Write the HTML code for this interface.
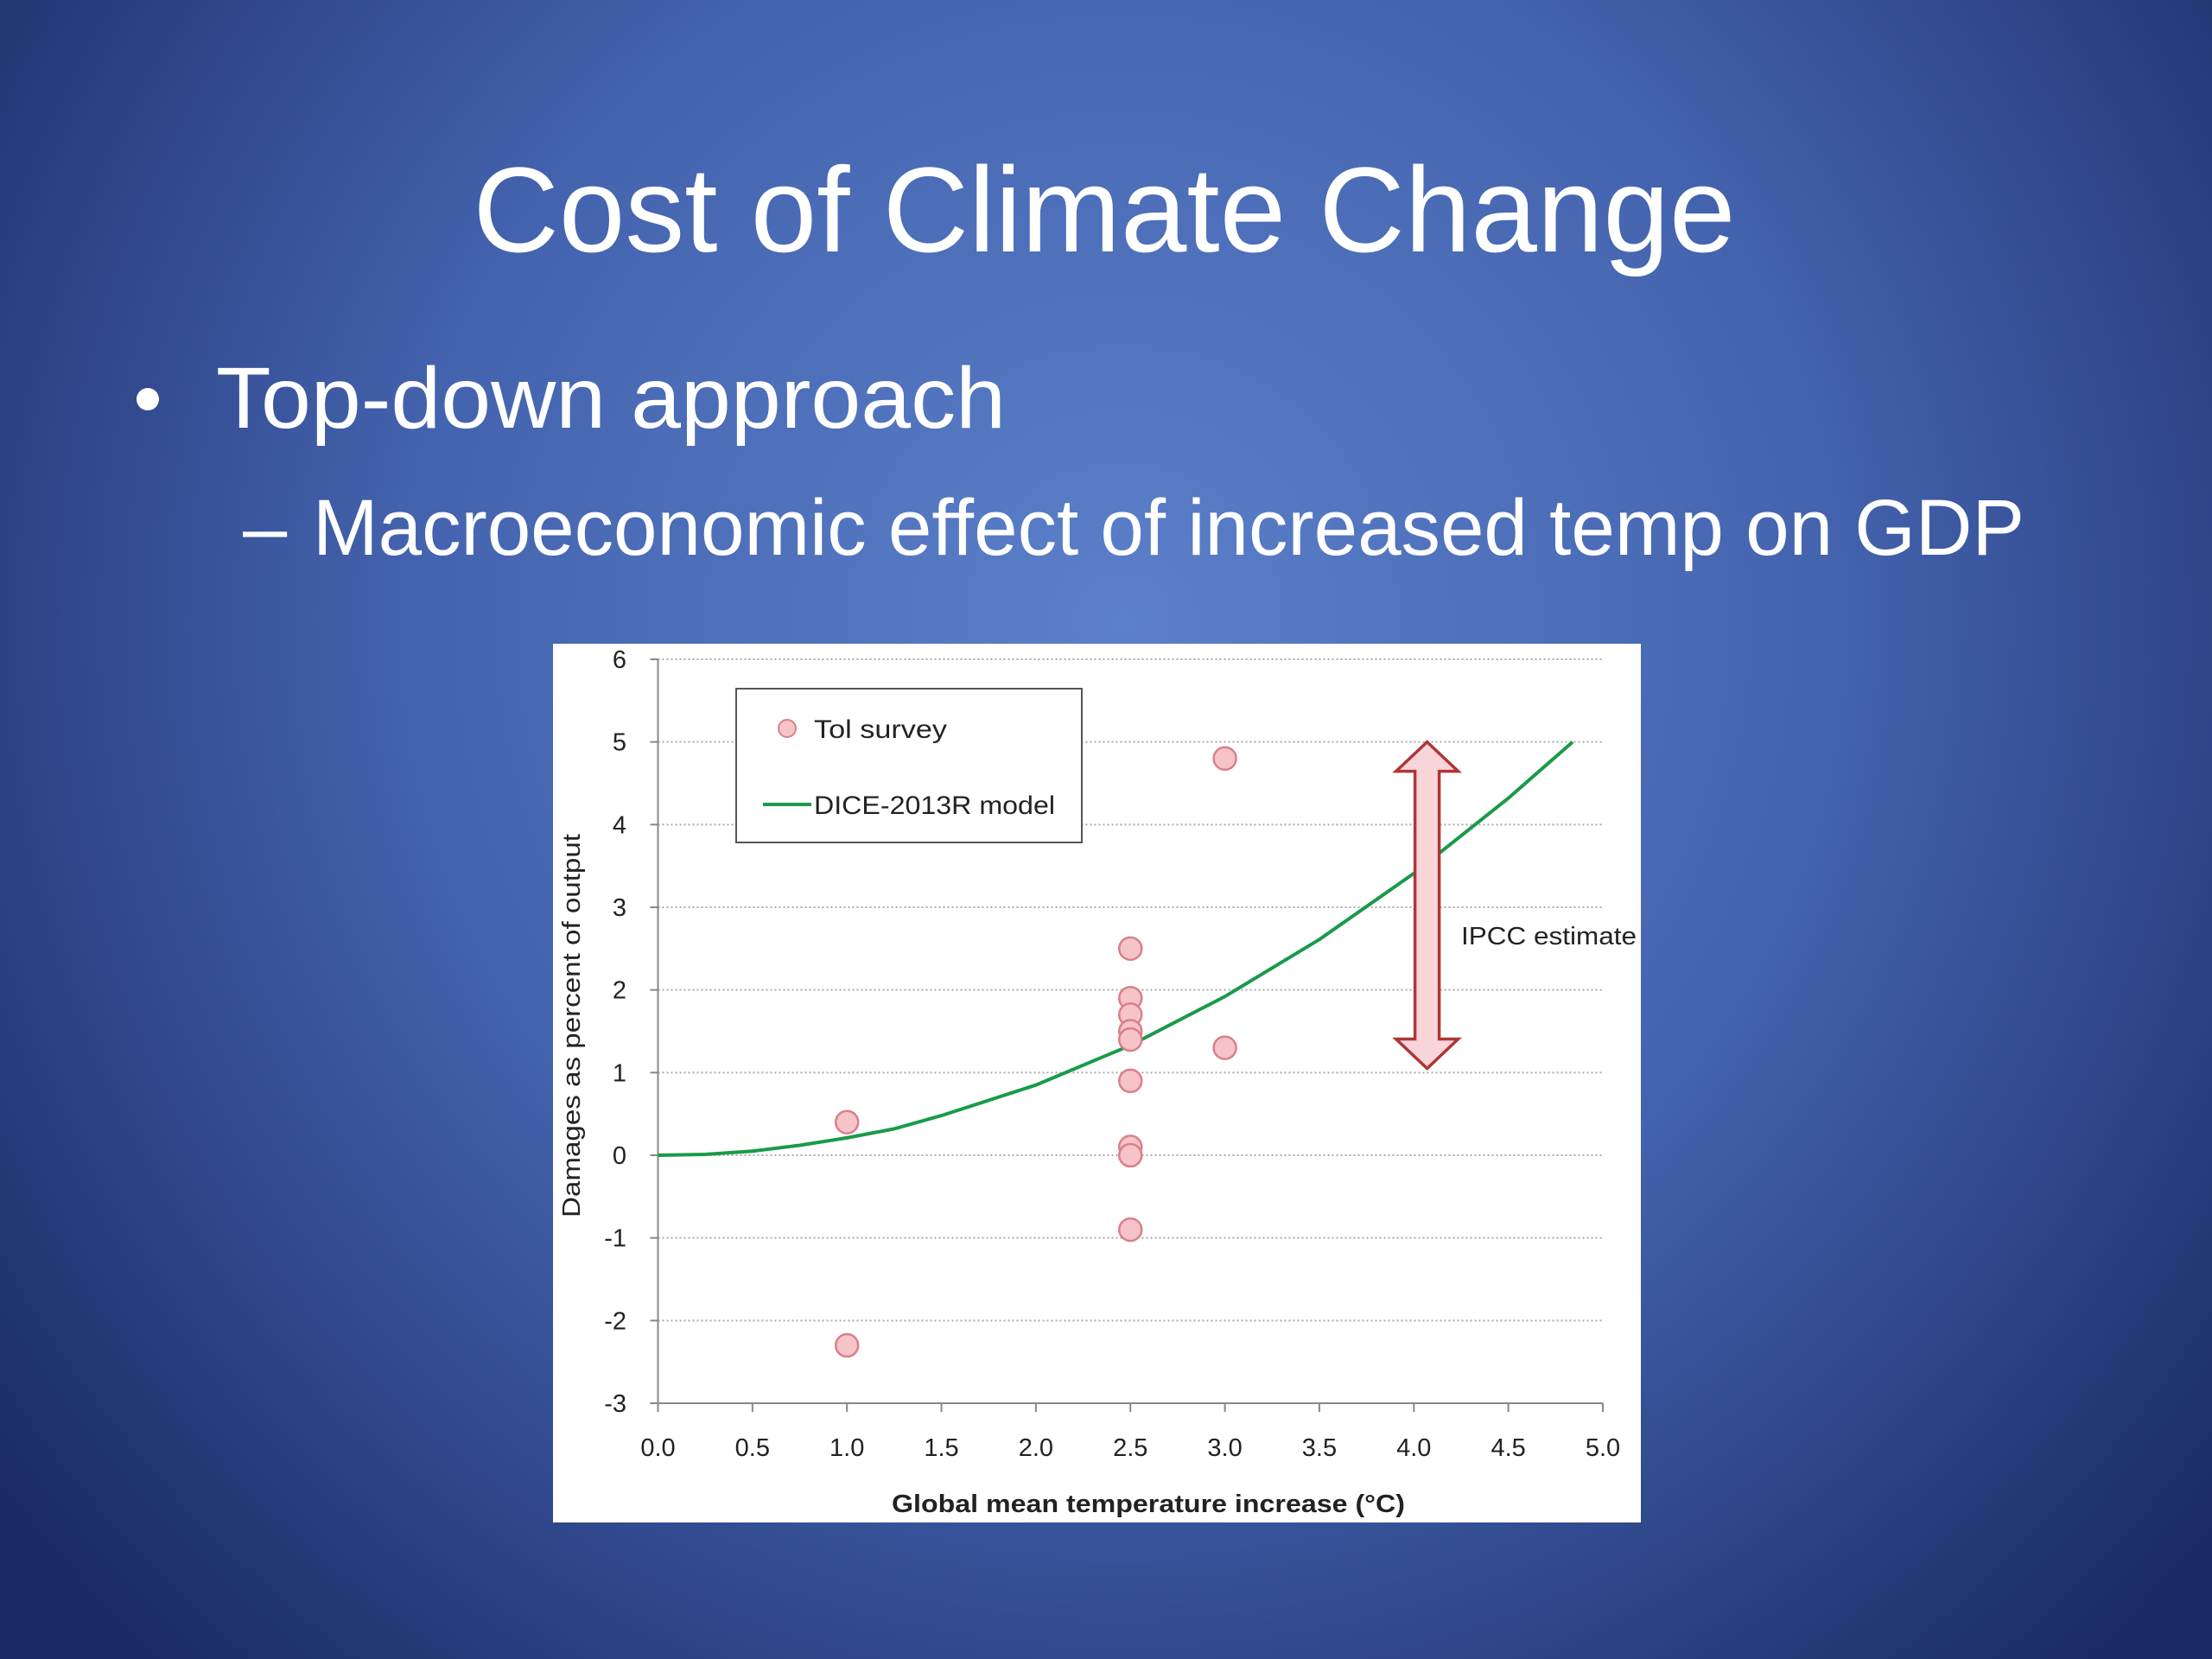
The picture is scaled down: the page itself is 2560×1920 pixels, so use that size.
<!DOCTYPE html>
<html><head><meta charset="utf-8"><style>
html,body{margin:0;padding:0;width:2560px;height:1920px;overflow:hidden;}
svg{display:block;font-family:"Liberation Sans",sans-serif;}
</style></head><body>
<svg id="slide" width="2560" height="1920" viewBox="0 0 2560 1920">
<defs>
<radialGradient id="bg" cx="1300" cy="720" r="1650" gradientUnits="userSpaceOnUse">
<stop offset="0" stop-color="#5b80c9"/><stop offset="0.5" stop-color="#4463ae"/><stop offset="1" stop-color="#1a2a66"/>
</radialGradient>
</defs>
<rect width="2560" height="1920" fill="url(#bg)"/>
<text x="1278" y="291" fill="#fff" font-size="140" text-anchor="middle" textLength="1461" lengthAdjust="spacingAndGlyphs">Cost of Climate Change</text>
<circle cx="171" cy="462" r="13" fill="#fff"/>
<text x="250" y="495" fill="#fff" font-size="100" textLength="914" lengthAdjust="spacingAndGlyphs">Top-down approach</text>
<text x="281" y="642" fill="#fff" font-size="92">–</text>
<text x="362" y="642" fill="#fff" font-size="92" textLength="1981" lengthAdjust="spacingAndGlyphs">Macroeconomic effect of increased temp on GDP</text>

<rect x="640" y="745" width="1259" height="1017" fill="#fff"/>
<g id="grid"></g>
<g id="axes"></g>
<path id="curve" fill="none" stroke="#1a9a4a" stroke-width="4"/>
<g id="points"></g>

<g>
<path id="arrow" fill="#f8d5d8" stroke="#b03636" stroke-width="3.5" stroke-linejoin="miter"/>
</g>
<text id="ipccLabel" x="1691" y="1093" font-size="29" fill="#222" textLength="203" lengthAdjust="spacingAndGlyphs">IPCC estimate</text>

<g>
<rect x="852" y="797" width="400" height="178" fill="#fff" stroke="#555" stroke-width="2"/>
<circle cx="911" cy="843" r="10" fill="#f6c3c9" stroke="#d98088" stroke-width="2"/>
<text x="942" y="854" font-size="30" fill="#222" textLength="154" lengthAdjust="spacingAndGlyphs">Tol survey</text>
<line x1="883" y1="931" x2="939" y2="931" stroke="#1a9a4a" stroke-width="4"/>
<text x="942" y="942" font-size="30" fill="#222" textLength="279" lengthAdjust="spacingAndGlyphs">DICE-2013R model</text>
</g>
<text x="1329" y="1750" font-size="29" font-weight="bold" fill="#222" text-anchor="middle" textLength="594" lengthAdjust="spacingAndGlyphs">Global mean temperature increase (°C)</text>
<text transform="translate(671,1187) rotate(-90)" font-size="29" fill="#222" text-anchor="middle" textLength="444" lengthAdjust="spacingAndGlyphs">Damages as percent of output</text>
</svg>
<script>
const xTicks = [0,0.5,1,1.5,2,2.5,3,3.5,4,4.5,5];
const xTickLabels = ["0.0","0.5","1.0","1.5","2.0","2.5","3.0","3.5","4.0","4.5","5.0"];
const yTicks = [-3,-2,-1,0,1,2,3,4,5,6];
const tolTemp = [1,1,2.5,2.5,2.5,2.5,2.5,2.5,2.5,2.5,2.5,3,3];
const tolDamage = [0.4,-2.3,2.5,1.9,1.7,1.5,1.4,0.9,0.1,0.0,-0.9,4.8,1.3];
const diceTemp = [0,0.25,0.5,0.75,1,1.25,1.5,2,2.5,3,3.5,4,4.5,4.84];
const diceDamage = [0,0.01,0.05,0.12,0.21,0.32,0.48,0.85,1.33,1.92,2.61,3.41,4.32,5.0];
const ipccRange = [1.05,5.0];
const ipccTemp = 4.07;

const NS="http://www.w3.org/2000/svg";
const X0=761.5,X1=1855,Y6=763,Ym3=1624;
function sx(v){return X0+(v-0)/(5-0)*(X1-X0);}
function sy(v){return Y6+(6-v)/(9)*(Ym3-Y6);}
function mk(tag,attrs,parent){const e=document.createElementNS(NS,tag);for(const k in attrs)e.setAttribute(k,attrs[k]);parent.appendChild(e);return e;}

const grid=document.getElementById('grid'),axes=document.getElementById('axes');
yTicks.forEach(v=>{
  if(v>-3){
    const l=mk('line',{x1:X0,x2:X1,y1:sy(v),y2:sy(v),stroke:'#aaa','stroke-width':2,'stroke-dasharray':'2 3'},grid);
    
    
  }
  const t=mk('line',{x1:X0-9,x2:X0,y1:sy(v),y2:sy(v),stroke:'#888','stroke-width':2},axes);
  
  
  const lab=mk('text',{x:725,y:sy(v)+10,'font-size':29,fill:'#222','text-anchor':'end'},axes);
  lab.textContent=String(v);
  
  
});
xTicks.forEach((v,i)=>{
  const t=mk('line',{x1:sx(v),x2:sx(v),y1:Ym3,y2:Ym3+10,stroke:'#888','stroke-width':2},axes);
  
  
  const lab=mk('text',{x:sx(v),y:1685,'font-size':29,fill:'#222','text-anchor':'middle'},axes);
  lab.textContent=xTickLabels[i];
  
  
});
const ya=mk('line',{x1:X0,x2:X0,y1:Y6,y2:Ym3,stroke:'#888','stroke-width':2},axes);


const xa=mk('line',{x1:X0,x2:X1,y1:Ym3,y2:Ym3,stroke:'#888','stroke-width':2},axes);



document.getElementById('curve').setAttribute('d',diceTemp.map((t,i)=>(i?'L':'M')+sx(t).toFixed(1)+','+sy(diceDamage[i]).toFixed(1)).join(' '));

const pts=document.getElementById('points');
tolTemp.forEach((t,i)=>{
  const c=mk('circle',{cx:sx(t),cy:sy(tolDamage[i]),r:13,fill:'#f6c3c9',stroke:'#d98088','stroke-width':2.5},pts);
  
  
});

(function(){
  const cx=sx(ipccTemp),top=sy(ipccRange[1]),bot=sy(ipccRange[0]);
  const sw=14,hw=36,hh=34;
  const d=`M${cx},${top} L${cx+hw},${top+hh} L${cx+sw},${top+hh} L${cx+sw},${bot-hh} L${cx+hw},${bot-hh} L${cx},${bot} L${cx-hw},${bot-hh} L${cx-sw},${bot-hh} L${cx-sw},${top+hh} L${cx-hw},${top+hh} Z`;
  document.getElementById('arrow').setAttribute('d',d);
})();
</script>
</body></html>
